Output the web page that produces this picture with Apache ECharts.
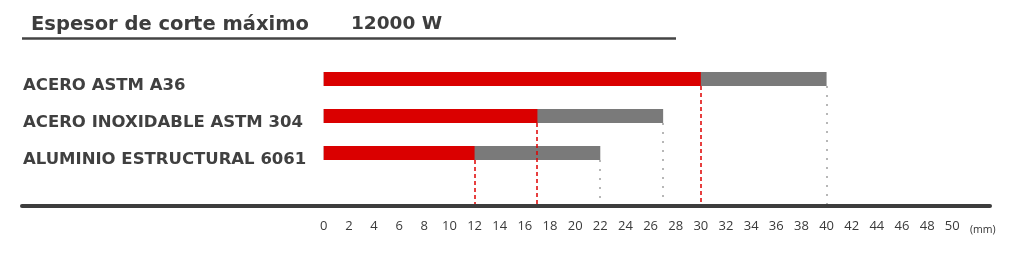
<!DOCTYPE html>
<html><head><meta charset="utf-8">
<script src="https://cdn.jsdelivr.net/npm/echarts@6/dist/echarts.min.js"></script>
<style>html,body{margin:0;padding:0;background:#fff}#c{width:1024px;height:257px}</style>
</head><body><div id="c"></div>
<script>
const titleMain = 'Espesor de corte máximo';
const titlePower = '12000 W';
const categories = ['ACERO ASTM A36', 'ACERO INOXIDABLE ASTM 304', 'ALUMINIO ESTRUCTURAL 6061'];
const redValues = [30, 17, 12];      // espesor de corte de calidad
const totalValues = [40, 27, 22];    // espesor de corte máximo
const tickLabels = [0,2,4,6,8,10,12,14,16,18,20,22,24,26,28,30,32,34,36,38,40,42,44,46,48,50];
const unitLabel = '(mm)';

const RED = '#da0000', GRAY = '#7a7a7a', DARK = '#3d3d3d';
const BAR_W = 14, AXIS_OFFSET = 34.5;

const lineData = [];
categories.forEach((c, i) => {
  lineData.push([redValues[i], i, 0]);
  lineData.push([totalValues[i], i, 1]);
});

const chart = echarts.init(document.getElementById('c'), null, {renderer: 'canvas'});
chart.setOption({
  animation: false,
  backgroundColor: '#fff',
  title: [
    {text: titleMain, left: 26, top: 10, textStyle: {fontFamily: 'DejaVu Sans', fontWeight: 'bold', fontSize: 19.5, color: DARK}},
    {text: titlePower, left: 346, top: 10, textStyle: {fontFamily: 'DejaVu Sans', fontWeight: 'bold', fontSize: 18.5, color: DARK}}
  ],
  graphic: [
    {type: 'line', shape: {x1: 22, y1: 38.5, x2: 676, y2: 38.5}, style: {stroke: '#444', lineWidth: 2.5}}
  ],
  grid: {left: 22, right: 34, top: 60.5, bottom: 85.5, containLabel: false},
  xAxis: {
    type: 'value', min: -24, max: 53, offset: AXIS_OFFSET,
    splitLine: {show: false},
    axisLine: {show: true, lineStyle: {color: DARK, width: 4}},
    axisTick: {show: false},
    axisLabel: {customValues: tickLabels, margin: 14, fontFamily: 'Open Sans', fontSize: 13, color: '#3a3a3a'},
    name: unitLabel, nameLocation: 'end', nameGap: -20,
    nameTextStyle: {fontFamily: 'Open Sans', fontSize: 10.5, color: '#333', verticalAlign: 'top', padding: [19, 0, 0, 0]}
  },
  yAxis: {
    type: 'category', data: categories, inverse: true,
    axisLine: {show: false}, axisTick: {show: false},
    axisLabel: {inside: true, margin: 1, verticalAlign: 'top', lineHeight: 14, fontFamily: 'DejaVu Sans', fontWeight: 'bold', fontSize: 16.5, color: '#404040'}
  },
  series: [
    {type: 'bar', data: totalValues, barWidth: BAR_W, barGap: '-100%', itemStyle: {color: GRAY}, z: 2},
    {type: 'bar', data: redValues, barWidth: BAR_W, barGap: '-100%', itemStyle: {color: RED}, z: 3},
    {
      type: 'custom', data: lineData, z: 5, silent: true,
      encode: {x: 0, y: 1},
      renderItem: function (params, api) {
        const v = api.value(0), cat = api.value(1), kind = api.value(2);
        const p = api.coord([v, cat]);
        const cs = params.coordSys;
        const x = Math.round(p[0]);
        const yEnd = cs.y + cs.height + AXIS_OFFSET - 2;
        return {
          type: 'line',
          shape: {x1: x, y1: p[1] + BAR_W / 2, x2: x, y2: yEnd},
          style: {stroke: kind === 0 ? '#e00000' : '#888', lineWidth: kind === 0 ? 1.5 : 1.2, lineDash: kind === 0 ? [4, 3] : [2, 7]}
        };
      }
    }
  ]
});
</script></body></html>
